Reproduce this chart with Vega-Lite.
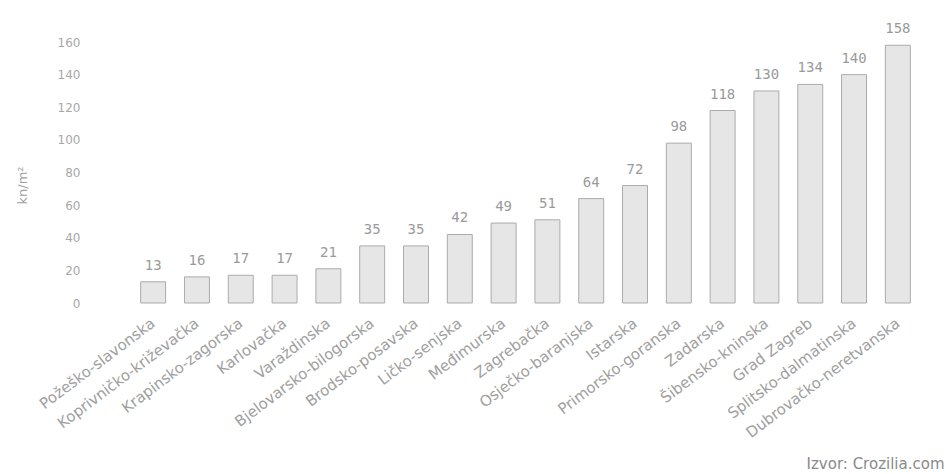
{
  "$schema": "https://vega.github.io/schema/vega-lite/v6.json",
  "autosize": "none",
  "width": 831,
  "height": 261,
  "padding": {"left": 110, "top": 42, "right": 5, "bottom": 171},
  "background": "white",
  "config": {"view": {"stroke": null}, "font": "DejaVu Sans"},
  "data": {
    "values": [
      {"zupanija": "Požeško-slavonska", "vrijednost": 13},
      {"zupanija": "Koprivničko-križevačka", "vrijednost": 16},
      {"zupanija": "Krapinsko-zagorska", "vrijednost": 17},
      {"zupanija": "Karlovačka", "vrijednost": 17},
      {"zupanija": "Varaždinska", "vrijednost": 21},
      {"zupanija": "Bjelovarsko-bilogorska", "vrijednost": 35},
      {"zupanija": "Brodsko-posavska", "vrijednost": 35},
      {"zupanija": "Ličko-senjska", "vrijednost": 42},
      {"zupanija": "Međimurska", "vrijednost": 49},
      {"zupanija": "Zagrebačka", "vrijednost": 51},
      {"zupanija": "Osječko-baranjska", "vrijednost": 64},
      {"zupanija": "Istarska", "vrijednost": 72},
      {"zupanija": "Primorsko-goranska", "vrijednost": 98},
      {"zupanija": "Zadarska", "vrijednost": 118},
      {"zupanija": "Šibensko-kninska", "vrijednost": 130},
      {"zupanija": "Grad Zagreb", "vrijednost": 134},
      {"zupanija": "Splitsko-dalmatinska", "vrijednost": 140},
      {"zupanija": "Dubrovačko-neretvanska", "vrijednost": 158}
    ]
  },
  "encoding": {
    "x": {
      "field": "zupanija",
      "type": "nominal",
      "sort": null,
      "scale": {"paddingInner": 0.43, "paddingOuter": 0.7},
      "axis": {
        "title": "Izvor: Crozilia.com",
        "titleX": 834,
        "titleY": 160,
        "titleAlign": "right",
        "titleBaseline": "middle",
        "titleAngle": 0,
        "titleColor": "#8a8a8a",
        "titleFontSize": 15,
        "titleFontWeight": "normal",
        "labelAngle": -37,
        "labelAlign": "right",
        "labelBaseline": "middle",
        "labelColor": "#a0a0a0",
        "labelFontSize": 15,
        "labelPadding": 18,
        "labelOverlap": false,
        "labelLimit": 0,
        "domain": false,
        "ticks": false
      }
    },
    "y": {
      "field": "vrijednost",
      "type": "quantitative",
      "scale": {"domain": [0, 160], "nice": false},
      "axis": {
        "title": "kn/m²",
        "titleX": -88,
        "titleY": 143,
        "titleAngle": -90,
        "titleAlign": "center",
        "titleBaseline": "middle",
        "titleColor": "#a0a0a0",
        "titleFontSize": 13,
        "titleFontWeight": "normal",
        "values": [0, 20, 40, 60, 80, 100, 120, 140, 160],
        "labelColor": "#a8a8a8",
        "labelFontSize": 12,
        "labelPadding": 30,
        "domain": false,
        "ticks": false,
        "grid": false
      }
    }
  },
  "layer": [
    {
      "mark": {"type": "bar", "fill": "#e6e6e6", "stroke": "#ababab", "strokeWidth": 1}
    },
    {
      "mark": {"type": "text", "dy": -16, "baseline": "middle", "fontSize": 14, "color": "#9a9a9a", "font": "DejaVu Sans Mono"},
      "encoding": {"text": {"field": "vrijednost", "type": "quantitative"}}
    }
  ]
}
